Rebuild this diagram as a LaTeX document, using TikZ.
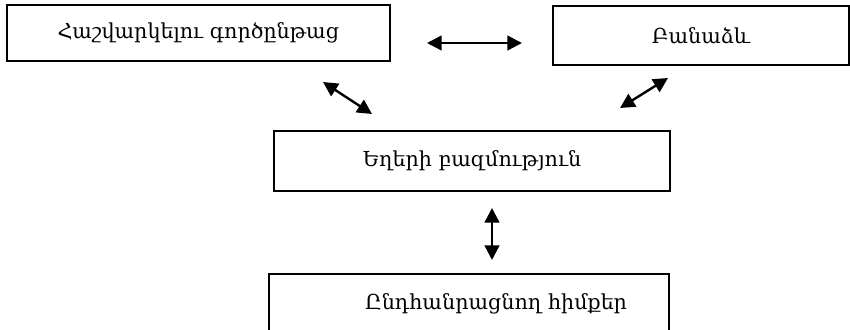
\documentclass[tikz,border=0pt]{standalone}
\usepackage{fontspec}
\setmainfont{DejaVu Serif}
\usetikzlibrary{arrows.meta}

\tikzset{
    blockbox/.style={draw, line width=1.5pt, anchor=north west, font=\fontsize{15.5}{18}\selectfont},
    linkarrow/.style={line width=1.8pt, {Triangle[length=11pt,width=11pt]}-{Triangle[length=11pt,width=11pt]}}
}

\begin{document}
\begin{tikzpicture}[x=0.75pt,y=-0.75pt]
            \useasboundingbox (0,0) rectangle (850,329);

            \node[blockbox, minimum width=287pt, minimum height=42pt] (calc) at (6,4) {Հաշվարկելու գործընթաց};
            \node[blockbox, minimum width=222pt, minimum height=44pt] (prog) at (552,5) {Բանաձև};
            \node[blockbox, minimum width=297pt, minimum height=45pt] (edges) at (273,130) {Եղերի բազմություն};
            \node[blockbox, minimum width=300pt, minimum height=45pt, text width=237pt, inner xsep=31.5pt, align=right] (bases) at (268,273) {Ընդհանրացնող հիմքեր};

            % arrow ends
            \coordinate (h1) at (427,43);
            \coordinate (h2) at (522,43);
            \coordinate (d1) at (323,82);
            \coordinate (d2) at (372,114);
            \coordinate (e1) at (668,78);
            \coordinate (e2) at (620,108);
            \coordinate (v1) at (492,208);
            \coordinate (v2) at (492,260);

            \draw[linkarrow] (h1) -- (h2);
            \draw[linkarrow] (d1) -- (d2);
            \draw[linkarrow] (e1) -- (e2);
            \draw[linkarrow] (v1) -- (v2);
\end{tikzpicture}
\end{document}
